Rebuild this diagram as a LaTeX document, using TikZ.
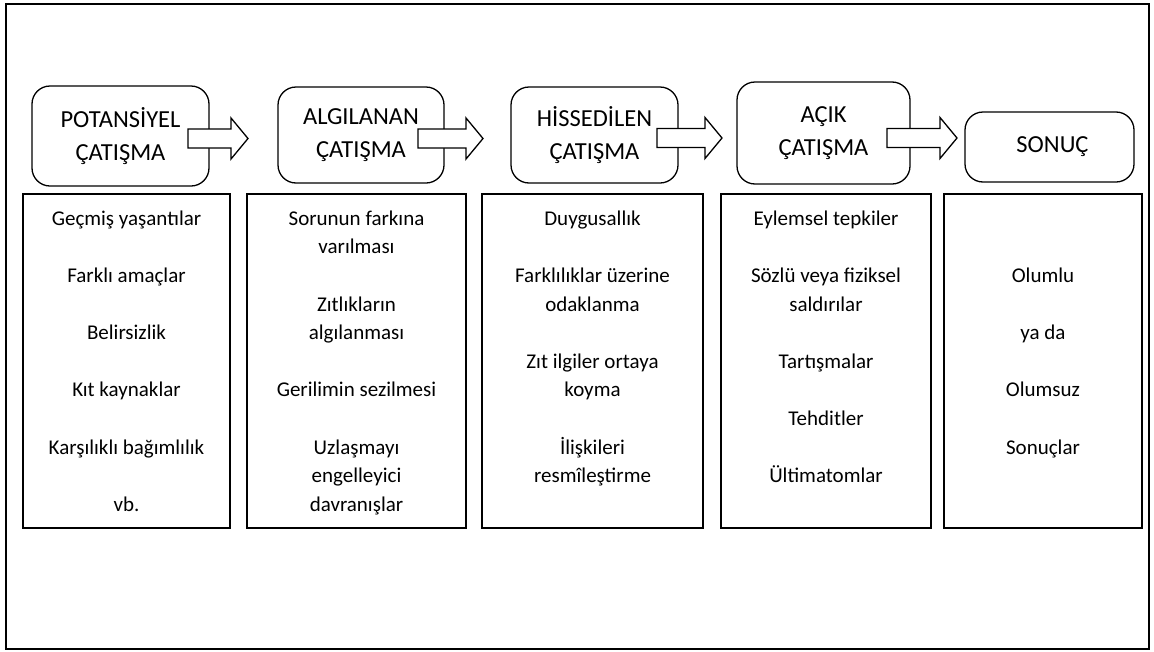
\documentclass[tikz,border=0pt]{standalone}
\usepackage{fontspec}
\setmainfont{Carlito}
\usetikzlibrary{calc}
\tikzset{
  stage/.style={draw, line width=1.3pt, rounded corners=18pt, align=center,
    inner sep=0pt, font=\fontsize{24.5}{33}\selectfont},
  itembox/.style={draw, line width=1.3pt, inner sep=0pt},
  itemtext/.style={anchor=north, align=center, inner sep=0pt,
    font=\fontsize{21}{28.6}\selectfont},
  fatarrow/.style={draw, fill=white, line width=1.3pt, line join=miter},
  frame/.style={draw, line width=1.2pt}
}
% hollow block arrow: #1 tail, #2 tip
\newcommand{\blockarrow}[2]{%
  \draw[fatarrow] ($(#1)+(0,-9.5)$) -- ($(#2)+(-17,-9.5)$) -- ($(#2)+(-17,-20.5)$)
    -- (#2) -- ($(#2)+(-17,20.5)$) -- ($(#2)+(-17,9.5)$) -- ($(#1)+(0,9.5)$) -- cycle;}

\begin{document}
\begin{tikzpicture}[x=1pt, y=-1pt]
  \useasboundingbox (0,0) rectangle (1154,651);
  \draw[frame] (6,4) rectangle (1149,649);

  % stages
  \node[stage, minimum width=177pt, minimum height=100pt] (potansiyel) at (120.5,136) {POTANSİYEL\\ÇATIŞMA};
  \node[stage, minimum width=166pt, minimum height=96pt] (algilanan) at (361,135) {ALGILANAN\\ÇATIŞMA};
  \node[stage, minimum width=167pt, minimum height=96pt] (hissedilen) at (594.5,135) {HİSSEDİLEN\\ÇATIŞMA};
  \node[stage, minimum width=173pt, minimum height=102pt] (acik) at (823.5,133) {AÇIK\\ÇATIŞMA};
  \node[stage, minimum width=169pt, minimum height=70pt] (sonuc) at (1049.5,147) {\hspace{6pt}SONUÇ};

  % arrows between the stages
  \coordinate (a1t) at (188,138.5);  \coordinate (a1h) at (248,138.5);
  \coordinate (a2t) at (418,138.5);  \coordinate (a2h) at (483,138.5);
  \coordinate (a3t) at (657,138);    \coordinate (a3h) at (722,138);
  \coordinate (a4t) at (887,138);    \coordinate (a4h) at (957,138);
  \blockarrow{a1t}{a1h}
  \blockarrow{a2t}{a2h}
  \blockarrow{a3t}{a3h}
  \blockarrow{a4t}{a4h}

  % columns
  \node[itembox, minimum width=207pt, minimum height=334pt] (potansiyelbox) at (126.5,361) {};
  \node[itembox, minimum width=219pt, minimum height=334pt] (algilananbox) at (356.5,361) {};
  \node[itembox, minimum width=221pt, minimum height=334pt] (hissedilenbox) at (592.5,361) {};
  \node[itembox, minimum width=210pt, minimum height=334pt] (acikbox) at (826,361) {};
  \node[itembox, minimum width=198pt, minimum height=334pt] (sonucbox) at (1043,361) {};

  \node[itemtext] (potansiyeltext) at (126.5,205) {\strut Geçmiş yaşantılar\\[28.6pt]
    Farklı amaçlar\\[28.6pt] Belirsizlik\\[28.6pt] Kıt kaynaklar\\[28.6pt]
    Karşılıklı bağımlılık\\[28.6pt] vb.};
  \node[itemtext] (algilanantext) at (356.5,205) {\strut Sorunun farkına\\ varılması\\[28.6pt]
    Zıtlıkların\\ algılanması\\[28.6pt] Gerilimin sezilmesi\\[28.6pt]
    Uzlaşmayı\\ engelleyici\\ davranışlar};
  \node[itemtext] (hissedilentext) at (592.5,205) {\strut Duygusallık\\[28.6pt]
    Farklılıklar üzerine\\ odaklanma\\[28.6pt] Zıt ilgiler ortaya\\ koyma\\[28.6pt]
    İlişkileri\\ resmîleştirme};
  \node[itemtext] (aciktext) at (826,205) {\strut Eylemsel tepkiler\\[28.6pt]
    Sözlü veya fiziksel\\ saldırılar\\[28.6pt] Tartışmalar\\[28.6pt]
    Tehditler\\[28.6pt] Ültimatomlar};
  \node[itemtext] (sonuctext) at (1043,205) {\strut\\[28.6pt] Olumlu\\[28.6pt]
    ya da\\[28.6pt] Olumsuz\\[28.6pt] Sonuçlar};
\end{tikzpicture}
\end{document}
